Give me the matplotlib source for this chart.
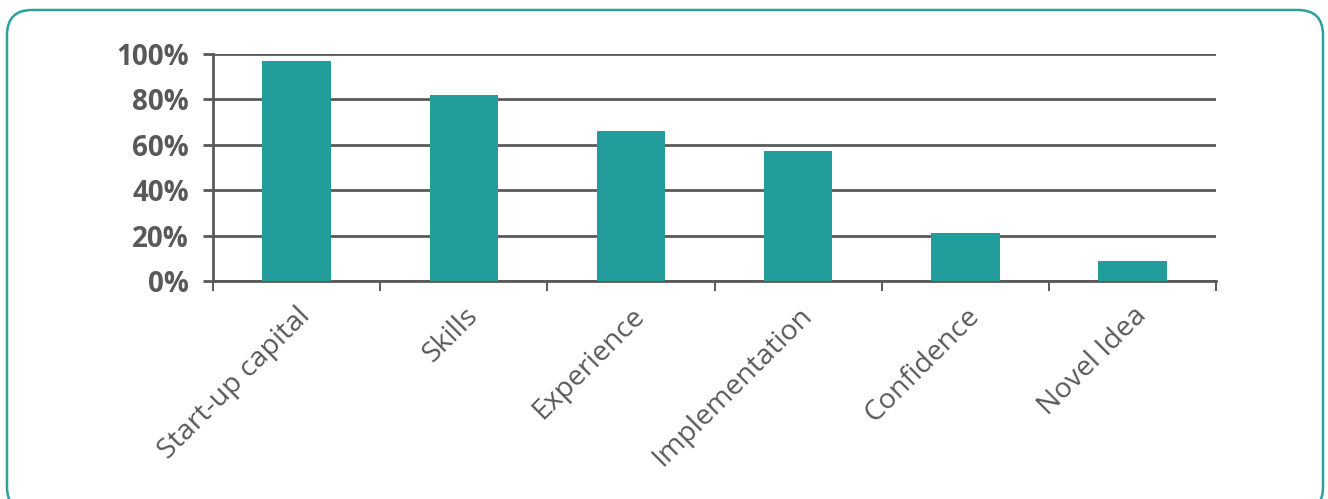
import numpy as np
import matplotlib.pyplot as plt
from matplotlib.patches import FancyBboxPatch

categories = ['Start-up capital', 'Skills', 'Experience', 'Implementation',
              'Confidence', 'Novel Idea']
shares = [97, 82, 66, 57, 21, 9]
y_ticks = [0, 20, 40, 60, 80, 100]

BAR_COLOR = '#239C9C'
FRAME_COLOR = '#2AA19D'
GRID_COLOR = '#595959'
TEXT_COLOR = '#595959'

plt.rcParams['font.family'] = ['Open Sans', 'DejaVu Sans']

fig = plt.figure(figsize=(13.28, 4.99), dpi=100)

# rounded frame around the whole chart, in inch units
frame = FancyBboxPatch((0.07, -0.13), 13.16, 5.02,
                       boxstyle='round,pad=0,rounding_size=0.25',
                       transform=fig.dpi_scale_trans,
                       facecolor='none', edgecolor=FRAME_COLOR,
                       linewidth=1.8, zorder=-1)
fig.patches.append(frame)

ax = fig.add_axes([0.1604, 0.4369, 0.7553, 0.4555])
ax.set_facecolor('none')

x = np.arange(len(categories))
ax.bar(x, shares, width=0.41, color=BAR_COLOR, zorder=3)

ax.set_xlim(-0.5, len(categories) - 0.5)
ax.set_ylim(0, 100)
ax.set_yticks(y_ticks)
ax.set_yticklabels([f'{v}%' for v in y_ticks])

ax.yaxis.grid(True, color=GRID_COLOR, linewidth=2.0, zorder=1)
ax.set_axisbelow(True)

for side in ['top', 'right']:
    ax.spines[side].set_visible(False)
for side in ['left', 'bottom']:
    ax.spines[side].set_color(GRID_COLOR)
    ax.spines[side].set_linewidth(2.0)

ax.tick_params(axis='y', length=7.2, width=2.0, color=GRID_COLOR,
               pad=10, labelsize=20, labelcolor=TEXT_COLOR)
for lbl in ax.get_yticklabels():
    lbl.set_fontweight('bold')

# category labels centred on bars, tick marks on the boundaries
ax.set_xticks(x)
ax.set_xticklabels(categories, rotation=45, ha='right', va='top',
                   rotation_mode='anchor', fontsize=20.5, color=TEXT_COLOR)
ax.tick_params(axis='x', which='major', length=0, pad=15)
ax.set_xticks(np.arange(-0.5, len(categories)), minor=True)
ax.tick_params(axis='x', which='minor', length=7.2, width=1.4,
               color=GRID_COLOR)

fig.savefig('out.png', dpi=100)
